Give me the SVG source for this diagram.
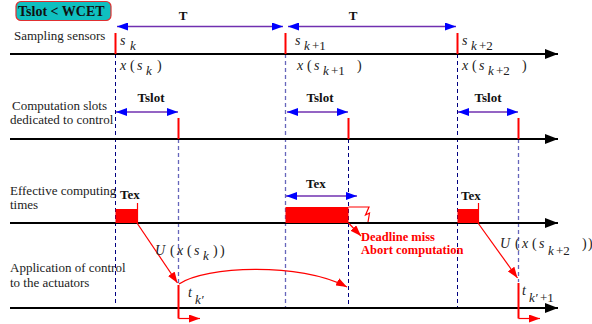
<svg xmlns="http://www.w3.org/2000/svg" width="592" height="324" viewBox="0 0 592 324" font-family="Liberation Serif, Times New Roman, serif">
<defs>
<marker id="bh" markerUnits="userSpaceOnUse" markerWidth="12" markerHeight="8" refX="11" refY="4" orient="auto-start-reverse"><path d="M0,0 L11,4 L0,8 Z" fill="#0000ff"/></marker>
<marker id="kh" markerUnits="userSpaceOnUse" markerWidth="14" markerHeight="10" refX="13" refY="5" orient="auto"><path d="M0,0 L13,5 L0,10 Z" fill="#000"/></marker>
<marker id="rh" markerUnits="userSpaceOnUse" markerWidth="12" markerHeight="8" refX="11" refY="4" orient="auto"><path d="M0,0 L11,4 L0,8 Z" fill="#ff0000"/></marker>
</defs>
<style>
.lbl{font-family:'Liberation Serif',serif;font-size:13px;fill:#222}
.b{font-family:'Liberation Serif',serif;font-size:13px;font-weight:bold;fill:#111}
.m{font-family:'Liberation Serif',serif;font-size:14px;font-style:italic;fill:#222}
.sub{font-size:13px}
.up{font-style:normal}
.axis{stroke:#000;stroke-width:2.2;fill:none}
.tick{stroke:#ff0000;stroke-width:2;fill:none}
.dd{stroke:#000080;stroke-width:1;stroke-dasharray:4,3;fill:none}
.dl{stroke:#6666bb;stroke-width:1.3;stroke-dasharray:4,3;fill:none}
.dim{stroke:#7030b0;stroke-width:1.5;fill:none}
.red{stroke:#ff0000;stroke-width:1.2;fill:none}
.rb{fill:#ff0000}
.warn{font-family:'Liberation Serif',serif;font-size:12.5px;font-weight:bold;fill:#ff0000}
</style>

<g id="title">
<rect x="16" y="1.5" width="95" height="19" rx="5" fill="#10c0c0" stroke="#e03030" stroke-width="1.2"/>
<text class="b" x="18" y="15.5" font-size="14" style="font-size:14px">Tslot &lt; WCET</text>
</g>

<g id="row-labels">
<text class="lbl" x="14" y="40">Sampling sensors</text>
<text class="lbl" x="12" y="110">Computation slots</text>
<text class="lbl" x="10" y="124">dedicated to control</text>
<text class="lbl" x="10" y="195">Effective computing</text>
<text class="lbl" x="10" y="209">times</text>
<text class="lbl" x="10" y="272">Application of control</text>
<text class="lbl" x="10" y="287">to the actuators</text>
</g>

<g id="connectors">
<line class="dd" x1="115.5" y1="54" x2="115.5" y2="306"/>
<line class="dl" x1="285.5" y1="54" x2="285.5" y2="308"/>
<line class="dd" x1="457.5" y1="54" x2="457.5" y2="308"/>
<line class="dl" x1="178.5" y1="139" x2="178.5" y2="284"/>
<line class="dd" x1="348.5" y1="139" x2="348.5" y2="306"/>
<line class="dl" x1="518.5" y1="139" x2="518.5" y2="282"/>

<line class="axis" x1="10" y1="54" x2="558" y2="54" marker-end="url(#kh)"/>
<line class="axis" x1="10" y1="139" x2="558" y2="139" marker-end="url(#kh)"/>
<line class="axis" x1="10" y1="223" x2="558" y2="223" marker-end="url(#kh)"/>
<line class="axis" x1="10" y1="308" x2="558" y2="308" marker-end="url(#kh)"/>

<line class="tick" x1="115.5" y1="33" x2="115.5" y2="54"/>
<line class="tick" x1="285.5" y1="33" x2="285.5" y2="54"/>
<line class="tick" x1="457.5" y1="33" x2="457.5" y2="54"/>
<line class="tick" x1="178.5" y1="118" x2="178.5" y2="139"/>
<line class="tick" x1="348.5" y1="118" x2="348.5" y2="139"/>
<line class="tick" x1="518.5" y1="118" x2="518.5" y2="139"/>

<line class="dim" x1="117" y1="26.5" x2="283" y2="26.5" marker-start="url(#bh)" marker-end="url(#bh)"/>
<line class="dim" x1="288" y1="26.5" x2="456" y2="26.5" marker-start="url(#bh)" marker-end="url(#bh)"/>
<line class="dim" x1="116" y1="112" x2="178" y2="112" marker-start="url(#bh)" marker-end="url(#bh)"/>
<line class="dim" x1="287" y1="112" x2="348" y2="112" marker-start="url(#bh)" marker-end="url(#bh)"/>
<line class="dim" x1="458" y1="112" x2="518" y2="112" marker-start="url(#bh)" marker-end="url(#bh)"/>
<line class="dim" x1="286" y1="196" x2="357" y2="196" marker-start="url(#bh)" marker-end="url(#bh)"/>

<line class="red" x1="137" y1="223" x2="177.5" y2="283" marker-end="url(#rh)"/>
<line class="red" x1="478" y1="223" x2="517.5" y2="278" marker-end="url(#rh)"/>
<line class="red" x1="348.5" y1="223" x2="361" y2="236" marker-end="url(#rh)"/>
<path class="red" d="M179,284 C205,266 300,262 347,287" marker-end="url(#rh)"/>

<path d="M178.5,285 V318.5" stroke="#ff0000" stroke-width="2" fill="none"/>
<line class="red" x1="178.5" y1="318.5" x2="200" y2="318.5" marker-end="url(#rh)"/>
<path d="M518.5,283 V318.5" stroke="#ff0000" stroke-width="2" fill="none"/>
<line class="red" x1="518.5" y1="318.5" x2="540" y2="318.5" marker-end="url(#rh)"/>
</g>

<g id="tex1">
<rect class="rb" x="115.5" y="209" width="22" height="14"/>
<line class="red" x1="137.5" y1="203" x2="137.5" y2="223"/>
<text class="b" x="120" y="199">Tex</text>
</g>
<g id="tex2">
<rect class="rb" x="285.5" y="207" width="63" height="16"/>
<path class="red" d="M348.5,207 H369 L365.5,215 L369.5,213 L368,222"/>
<text class="b" x="306" y="188">Tex</text>
</g>
<g id="tex3">
<rect class="rb" x="457.5" y="209" width="21" height="14"/>
<line class="red" x1="478.5" y1="203" x2="478.5" y2="223"/>
<text class="b" x="461" y="200">Tex</text>
</g>

<g id="dim-labels">
<text class="b" x="183" y="20" text-anchor="middle">T</text>
<text class="b" x="353" y="20" text-anchor="middle">T</text>
<text class="b" x="151" y="102" text-anchor="middle">Tslot</text>
<text class="b" x="320" y="102" text-anchor="middle">Tslot</text>
<text class="b" x="488" y="102" text-anchor="middle">Tslot</text>
</g>

<g id="sensor-labels">
<text class="m" x="120" y="45">s<tspan class="sub" x="130" y="50">k</tspan></text>
<text class="m" x="295" y="45">s<tspan class="sub" x="304" y="50">k</tspan><tspan class="sub up" x="312" y="50">+1</tspan></text>
<text class="m" x="462" y="45">s<tspan class="sub" x="471" y="50">k</tspan><tspan class="sub up" x="479" y="50">+2</tspan></text>
<text class="m" x="120" y="70">x<tspan class="up" x="130">(</tspan><tspan x="137">s</tspan><tspan class="sub" x="146" y="75">k</tspan><tspan class="up" x="157" y="70">)</tspan></text>
<text class="m" x="297" y="70">x<tspan class="up" x="307">(</tspan><tspan x="314">s</tspan><tspan class="sub" x="323" y="75">k</tspan><tspan class="up sub" x="331" y="75">+1</tspan><tspan class="up" x="357" y="70">)</tspan></text>
<text class="m" x="462" y="70">x<tspan class="up" x="472">(</tspan><tspan x="479">s</tspan><tspan class="sub" x="488" y="75">k</tspan><tspan class="up sub" x="496" y="75">+2</tspan><tspan class="up" x="522" y="70">)</tspan></text>
</g>

<g id="control-labels">
<text class="m" x="155" y="255">U<tspan class="up" x="170">(</tspan><tspan x="177">x</tspan><tspan class="up" x="187">(</tspan><tspan x="194">s</tspan><tspan class="sub" x="203" y="260">k</tspan><tspan class="up" x="213" y="255">)</tspan><tspan class="up" x="220">)</tspan></text>
<text class="m" x="500" y="248">U<tspan class="up" x="515">(</tspan><tspan x="522">x</tspan><tspan class="up" x="532">(</tspan><tspan x="539">s</tspan><tspan class="sub" x="548" y="255">k</tspan><tspan class="up sub" x="556" y="255">+2</tspan><tspan class="up" x="582" y="248">)</tspan><tspan class="up" x="588">)</tspan></text>
<text class="m" x="188" y="297">t<tspan class="sub" x="195" y="304">k′</tspan></text>
<text class="m" x="522" y="295">t<tspan class="sub" x="529" y="302">k′</tspan><tspan class="up sub" x="540" y="302">+1</tspan></text>
</g>

<g id="deadline-label">
<text class="warn" x="361" y="241">Deadline miss</text>
<text class="warn" x="361" y="254">Abort computation</text>
</g>
</svg>
